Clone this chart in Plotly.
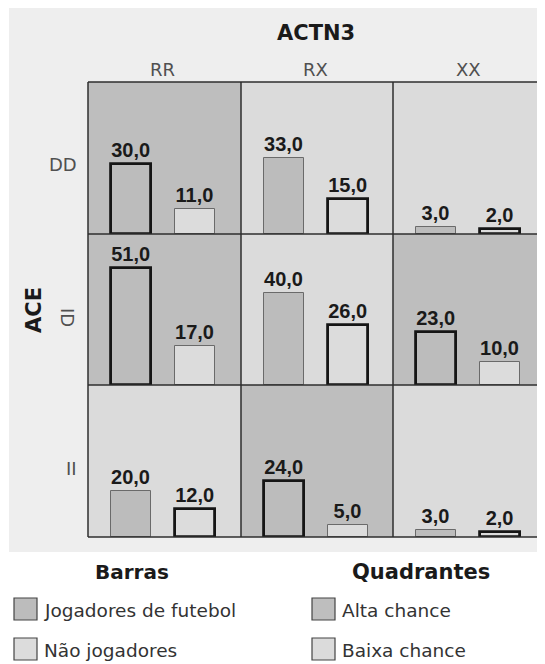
import plotly.graph_objects as go

# ---------------- data ----------------
actn3 = ["RR", "RX", "XX"]          # columns
ace = ["DD", "ID", "II"]            # rows
grupos = ["Jogadores de futebol", "Não jogadores"]
jogadores = [[30, 33, 3],           # DD
             [51, 40, 23],          # ID
             [20, 24, 3]]           # II
nao_jogadores = [[11, 15, 2],
                 [17, 26, 10],
                 [12, 5, 2]]
# which bar of each cell is highlighted (0 = jogadores, 1 = não jogadores)
destaque = [[0, 1, 1],
            [0, 1, 0],
            [1, 0, 1]]
quadrante = [["Alta chance", "Baixa chance", "Baixa chance"],
             ["Alta chance", "Baixa chance", "Alta chance"],
             ["Baixa chance", "Alta chance", "Baixa chance"]]
legenda_quadrantes = ["Alta chance", "Baixa chance"]

# ---------------- style ----------------
W, H = 545, 664        # reference picture size
OFF = 8                # page body margin
FW, FH = W - OFF, H - OFF
FONT = "DejaVu Sans, Verdana, sans-serif"
FONT_LBL = "Liberation Sans, Arial, sans-serif"
col_edges = [88, 241, 393, 546]
row_edges = [82, 234, 385, 537]
col_label_x = [163, 315, 468]
PX_PER_CAT = 64.0
LEFT_PX = 43.3
YMAX = 65.6
C_DARK = "#bebebe"
C_LIGHT = "#dbdbdb"
C_BG = "#eeeeee"
fill_group = ["#bcbcbc", "#dcdcdc"]
fill_quad = {"Alta chance": C_DARK, "Baixa chance": C_LIGHT}

def px_x(p):
    return min(max((p - OFF) / FW, 0), 1)

def px_y(p):
    return min(max(1 - (p - OFF) / FH, 0), 1)

fig = go.Figure()
shapes = []
annotations = []

# outer gray background
shapes.append(dict(type="rect", xref="paper", yref="paper", x0=px_x(9), x1=1,
                   y0=px_y(552), y1=px_y(5), fillcolor=C_BG, line=dict(width=0), layer="below"))

layout_axes = {}
for r in range(3):
    for c in range(3):
        k = r * 3 + c + 1
        xs = "" if k == 1 else str(k)
        x0p, x1p = col_edges[c], min(col_edges[c + 1], W)
        y0p, y1p = row_edges[r], row_edges[r + 1]
        left = -LEFT_PX / PX_PER_CAT
        right = left + (x1p - x0p) / PX_PER_CAT
        layout_axes["xaxis" + xs] = dict(domain=[px_x(x0p), px_x(x1p)], range=[left, right],
                                         anchor="y" + xs, visible=False, type="category",
                                         fixedrange=True)
        layout_axes["yaxis" + xs] = dict(domain=[px_y(y1p), px_y(y0p)], range=[0, YMAX],
                                         anchor="x" + xs, visible=False, fixedrange=True)
        # cell background
        shapes.append(dict(type="rect", xref="x%s domain" % xs, yref="y%s domain" % xs,
                           x0=0, x1=1, y0=0, y1=1, fillcolor=fill_quad[quadrante[r][c]],
                           line=dict(width=0), layer="below"))
        vals = [jogadores[r][c], nao_jogadores[r][c]]
        lw = [2.8 if destaque[r][c] == i else 1.0 for i in range(2)]
        lc = ["#151515" if destaque[r][c] == i else "#6a6a6a" for i in range(2)]
        fig.add_trace(go.Bar(
            x=grupos, y=vals, xaxis="x" + xs, yaxis="y" + xs, width=0.625,
            marker=dict(color=fill_group, line=dict(width=lw, color=lc)),
            texttemplate="%{y:.1f}", textposition="outside", constraintext="none",
            textfont=dict(family=FONT_LBL, size=20, color="#1a1a1a", weight="bold"),
            cliponaxis=False, showlegend=False, hoverinfo="skip"))

# grid lines
for xe in col_edges:
    shapes.append(dict(type="line", xref="paper", yref="paper", x0=px_x(xe), x1=px_x(xe),
                       y0=px_y(row_edges[-1]), y1=px_y(row_edges[0]),
                       line=dict(color="#2e2e2e", width=1.5)))
for ye in row_edges:
    shapes.append(dict(type="line", xref="paper", yref="paper", x0=px_x(col_edges[0]), x1=1,
                       y0=px_y(ye), y1=px_y(ye), line=dict(color="#2e2e2e", width=1.5)))

def ann(text, x, y, size, bold=False, color="#1a1a1a", angle=0, xanchor="center", family=FONT):
    annotations.append(dict(text=text, x=px_x(x), y=px_y(y), xref="paper", yref="paper",
                            showarrow=False, xanchor=xanchor, yanchor="middle", textangle=angle,
                            font=dict(family=family, size=size, color=color,
                                      weight="bold" if bold else "normal")))

ann("ACTN3", 316, 33, 21, bold=True)
for c, lab in enumerate(actn3):
    ann(lab, col_label_x[c], 69, 18, color="#505050")
ann("ACE", 34, 310, 21, bold=True, angle=-90)
row_lab_y = [164, 317, 468]
ann(ace[0], 79, row_lab_y[0], 18, color="#505050", xanchor="right")
ann(ace[1], 67, row_lab_y[1], 18, color="#505050", angle=90)
ann(ace[2], 79, row_lab_y[2], 18, color="#505050", xanchor="right")

# legend
ann("Barras", 132, 572, 20, bold=True)
ann("Quadrantes", 421, 572, 21, bold=True)
leg_rows_y = [609, 649]
for i, g in enumerate(grupos):
    yc = leg_rows_y[i]
    shapes.append(dict(type="rect", xref="paper", yref="paper", x0=px_x(14), x1=px_x(37),
                       y0=px_y(yc + 11), y1=px_y(yc - 11), fillcolor=fill_group[i],
                       line=dict(color="#444444", width=1.2)))
    ann(g, 42, yc + 1, 18.5, color="#333333", xanchor="left")
for i, q in enumerate(legenda_quadrantes):
    yc = leg_rows_y[i]
    shapes.append(dict(type="rect", xref="paper", yref="paper", x0=px_x(312), x1=px_x(335),
                       y0=px_y(yc + 11), y1=px_y(yc - 11), fillcolor=fill_quad[q],
                       line=dict(color="#444444", width=1.2)))
    ann(q, 340, yc + 1, 18.5, color="#333333", xanchor="left")

fig.update_layout(width=FW, height=FH, margin=dict(l=0, r=0, t=0, b=0), autosize=False,
                  paper_bgcolor="white", plot_bgcolor="rgba(0,0,0,0)", separators=",.",
                  bargap=0, shapes=shapes, annotations=annotations, **layout_axes)

fig.write_html("out.html")
